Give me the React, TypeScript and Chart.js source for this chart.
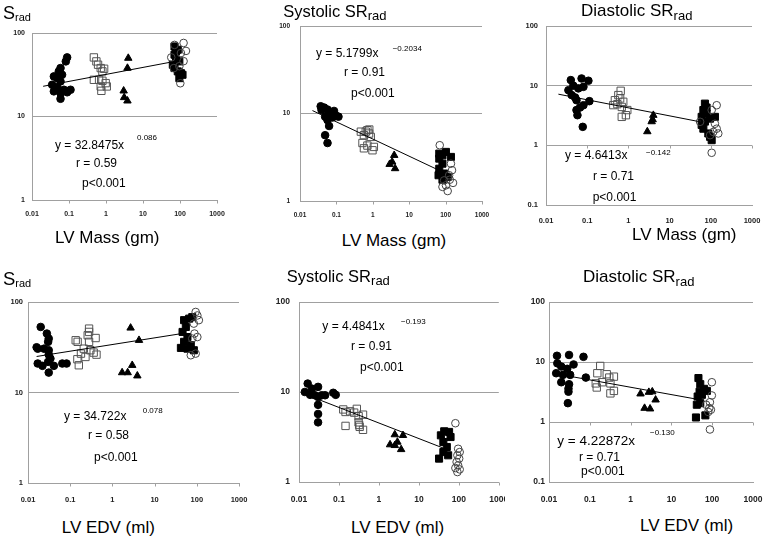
import React, { useEffect, useRef } from 'react';
import { Chart, registerables } from 'chart.js';

Chart.register(...registerables);

type Pt = [number, number];

// ---------- tick values / labels ----------
const xTickValues = [0.01, 0.1, 1, 10, 100, 1000];
const xTickLabels = ['0.01', '0.1', '1', '10', '100', '1000'];
const yTickValuesA = [1, 10, 100];
const yTickLabelsA = ['1', '10', '100'];
const yTickValuesB = [0.1, 1, 10, 100];
const yTickLabelsB = ['0.1', '1', '10', '100'];

// ---------- Panel 1: S_rad vs LV Mass ----------
const p1Circles: Pt[] = [[0.089, 51], [0.082, 45.7], [0.059, 38], [0.053, 34.7], [0.039, 30.2], [0.065, 31.6], [0.048, 28.8], [0.059, 26.3], [0.035, 24], [0.048, 22.3], [0.073, 20.9], [0.11, 20.9], [0.039, 20], [0.059, 19], [0.059, 16.3], [0.089, 19.5]];
const p1OpenSquares: Pt[] = [[0.47, 51], [0.55, 45.7], [0.61, 41.7], [0.72, 38], [0.89, 37.3], [0.8, 34.7], [0.47, 27.5], [0.65, 27.5], [0.8, 26.8], [0.98, 25.1], [0.72, 22.9], [1.05, 22.9], [0.75, 20.3]];
const p1Triangles: Pt[] = [[4.0, 50], [3.8, 38], [3.0, 20.3], [3.1, 16.9], [3.8, 15.4]];
const p1FilledSquares: Pt[] = [[71, 69], [87, 63], [71, 55], [78, 48], [64, 41.7], [71, 38], [87, 34.7], [117, 31.6], [96, 28.8], [106, 33], [78, 60], [96, 45.7]];
const p1OpenCircles: Pt[] = [[71, 72], [125, 76], [145, 61], [106, 57.5], [58, 51], [125, 46], [96, 40], [68, 38], [102, 25]];
const p1Trend: Pt[] = [[0.02, 23], [60, 45]];

// ---------- Panel 2: Systolic SR_rad vs LV Mass ----------
const p2Circles: Pt[] = [[0.037, 12.1], [0.046, 11.7], [0.057, 11.1], [0.039, 11], [0.063, 10], [0.086, 10.7], [0.096, 9.5], [0.114, 9.2], [0.078, 9.0], [0.057, 8.4], [0.063, 7.2], [0.049, 5.65], [0.057, 4.6], [0.049, 9.2]];
const p2OpenSquares: Pt[] = [[0.47, 6.2], [0.71, 6.45], [0.79, 5.9], [0.57, 5.65], [0.88, 5.4], [0.52, 4.6], [0.71, 4.3], [0.57, 4.0], [1.07, 4.15], [0.98, 3.8], [0.64, 6.2], [0.8, 6.56]];
const p2Triangles: Pt[] = [[3.87, 3.33], [2.9, 2.63], [3.4, 2.8], [4.1, 2.35]];
const p2FilledSquares: Pt[] = [[67, 3.48], [82, 3.33], [102, 3.64], [140, 3.19], [67, 3.05], [82, 2.67], [67, 2.34], [64, 1.97], [91, 2.06], [114, 1.88], [82, 1.75]];
const p2OpenCircles: Pt[] = [[69, 4.34], [140, 2.67], [150, 2.25], [125, 1.97], [91, 1.72], [160, 1.61], [102, 1.51], [114, 1.3], [130, 1.75], [82, 1.45]];
const p2Trend: Pt[] = [[0.022, 10.8], [65, 2.25]];

// ---------- Panel 3: Diastolic SR_rad vs LV Mass ----------
const p3Circles: Pt[] = [[0.04, 12.4], [0.073, 13.2], [0.107, 12.1], [0.046, 10], [0.081, 9.55], [0.035, 8.4], [0.061, 9.0], [0.042, 6.95], [0.051, 6.35], [0.055, 5.7], [0.113, 5.5], [0.081, 4.7], [0.067, 4.3], [0.055, 3.9], [0.058, 3.2], [0.078, 2.04]];
const p3OpenSquares: Pt[] = [[0.65, 8.2], [0.57, 6.95], [0.47, 5.7], [0.63, 6.1], [0.75, 5.37], [0.43, 4.72], [0.54, 4.9], [0.69, 4.4], [0.94, 3.9], [0.87, 3.2], [0.69, 3.0]];
const p3Triangles: Pt[] = [[4.03, 3.2], [3.88, 2.7], [3.67, 2.5], [2.88, 1.7]];
const p3FilledSquares: Pt[] = [[72, 5.0], [66, 3.9], [79, 3.4], [60, 3.0], [96, 2.8], [72, 2.5], [126, 3.0], [60, 2.2], [66, 1.9], [87, 1.58], [96, 1.39], [105, 1.22], [79, 4.3]];
const p3OpenCircles: Pt[] = [[139, 4.7], [105, 3.9], [126, 2.3], [139, 1.9], [115, 1.68], [152, 1.58], [96, 1.48], [105, 0.75], [55, 2.48]];
const p3Trend: Pt[] = [[0.02, 7.2], [55, 2.48]];

// ---------- Panel 4: S_rad vs LV EDV ----------
const p4Circles: Pt[] = [[0.02, 53], [0.028, 44.8], [0.031, 39.4], [0.03, 36.3], [0.017, 30.5], [0.024, 30.5], [0.031, 29.3], [0.016, 31.6], [0.031, 26.2], [0.034, 23.7], [0.03, 21.8], [0.017, 20.9], [0.022, 19.7], [0.041, 19.7], [0.065, 20.9], [0.082, 20.9], [0.031, 16.6]];
const p4OpenSquares: Pt[] = [[0.135, 37.8], [0.15, 36.3], [0.28, 50.8], [0.28, 46.7], [0.26, 42.9], [0.4, 40], [0.28, 36.3], [0.21, 30.5], [0.3, 29.3], [0.36, 27.6], [0.42, 26.2], [0.18, 26.9], [0.23, 24.7], [0.148, 23.3], [0.16, 20]];
const p4Triangles: Pt[] = [[2.7, 51.7], [4.27, 37.8], [2.95, 20], [1.7, 16.6], [2.3, 16.6], [3.9, 15.3]];
const p4FilledSquares: Pt[] = [[50, 63], [66, 65.5], [78, 68], [55, 53], [46, 46.7], [60, 41], [50, 36.3], [42, 31.1], [72, 33.3], [85, 29.3], [60, 30.5]];
const p4OpenCircles: Pt[] = [[94, 77.6], [103, 71], [112, 63], [85, 57.7], [88, 44.8], [103, 41], [78, 39.4], [72, 25.8], [94, 26.9]];
const p4Trend: Pt[] = [[0.016, 25], [47, 45]];

// ---------- Panel 5: Systolic SR_rad vs LV EDV ----------
const p5Circles: Pt[] = [[0.0165, 12.4], [0.014, 10], [0.021, 10.9], [0.03, 11.4], [0.019, 9.3], [0.025, 9.2], [0.037, 9.2], [0.045, 9.2], [0.072, 9.8], [0.083, 9.3], [0.03, 8.8], [0.03, 7.2], [0.03, 5.7], [0.03, 4.6]];
const p5OpenSquares: Pt[] = [[0.128, 6.4], [0.146, 6.0], [0.19, 6.1], [0.28, 6.5], [0.24, 5.9], [0.4, 5.6], [0.31, 5.4], [0.146, 4.2], [0.31, 4.6], [0.32, 4.3], [0.33, 4.1], [0.4, 3.8]];
const p5Triangles: Pt[] = [[2.5, 3.36], [4.0, 3.3], [1.9, 2.6], [2.5, 2.55], [2.9, 2.78], [3.6, 2.3]];
const p5FilledSquares: Pt[] = [[35.5, 3.3], [43, 3.66], [57, 3.6], [62, 3.16], [41, 2.78], [50, 2.45], [41, 2.15], [54, 1.98], [32, 1.82]];
const p5OpenCircles: Pt[] = [[82, 4.5], [96, 2.34], [105, 2.15], [92, 1.98], [102, 1.82], [88, 1.67], [96, 1.53], [82, 1.43], [92, 1.29], [105, 1.38]];
const p5Trend: Pt[] = [[0.026, 8.5], [50, 2.3]];

// ---------- Panel 6: Diastolic SR_rad vs LV EDV ----------
const p6Circles: Pt[] = [[0.0157, 12.7], [0.031, 13.1], [0.07, 12.2], [0.016, 9.5], [0.04, 9.1], [0.02, 8.4], [0.028, 7.7], [0.015, 6.5], [0.033, 6.1], [0.022, 6.1], [0.08, 5.5], [0.02, 4.6], [0.031, 4.26], [0.03, 3.6], [0.03, 3.2], [0.029, 2.06]];
const p6OpenSquares: Pt[] = [[0.18, 8.6], [0.153, 6.5], [0.26, 6.25], [0.3, 5.5], [0.39, 5.7], [0.14, 4.4], [0.2, 4.6], [0.32, 4.4], [0.148, 3.76], [0.39, 3.3], [0.32, 3.0]];
const p6Triangles: Pt[] = [[1.75, 2.95], [2.8, 3.14], [3.4, 3.2], [4.1, 2.34], [2.2, 1.7], [3.0, 1.66]];
const p6FilledSquares: Pt[] = [[46, 5.4], [51, 4.27], [49, 3.2], [63, 3.57], [74, 3.3], [56, 2.84], [44, 2.66], [51, 2.06], [42, 1.94], [40, 1.19], [68, 1.29]];
const p6OpenCircles: Pt[] = [[98, 4.6], [98, 2.77], [88, 2.14], [71, 1.94], [85, 1.71], [93, 1.6], [80, 1.47], [88, 0.75]];
const p6Trend: Pt[] = [[0.016, 6.3], [50, 2.35]];

// ---------- styles ----------
const FONT = '"Liberation Sans", Arial, Helvetica, sans-serif';
const GRID = '#a0a0a0';

const MARKERS = [
  { style: 'circle', radius: 3.8, bg: '#000', border: '#000' },
  { style: 'rect', radius: 5.2, bg: 'rgba(0,0,0,0)', border: '#555' },
  { style: 'triangle', radius: 4.3, bg: '#000', border: '#000' },
  { style: 'rect', radius: 5.0, bg: '#000', border: '#000' },
  { style: 'circle', radius: 3.8, bg: 'rgba(0,0,0,0)', border: '#444' },
];

interface PanelDef {
  canvas: [number, number, number, number]; // left, top, width, height
  area: [number, number, number, number]; // left, top, right, bottom
  yMin: number;
  yTicks: number[];
  yLabels: string[];
  groups: Pt[][];
  trend: Pt[];
  tickSize: number;
  xPad: number;
  yPad: number;
}

const PANELS: PanelDef[] = [
  { canvas: [0, 0, 250, 230], area: [32, 33, 217, 200], yMin: 1, yTicks: yTickValuesA, yLabels: yTickLabelsA, groups: [p1Circles, p1OpenSquares, p1Triangles, p1FilledSquares, p1OpenCircles], trend: p1Trend, tickSize: 7, xPad: 10, yPad: 7 },
  { canvas: [250, 0, 255, 230], area: [300, 26, 482, 201], yMin: 1, yTicks: yTickValuesA, yLabels: yTickLabelsA, groups: [p2Circles, p2OpenSquares, p2Triangles, p2FilledSquares, p2OpenCircles], trend: p2Trend, tickSize: 6.5, xPad: 10, yPad: 10 },
  { canvas: [505, 0, 260, 230], area: [546, 26, 752, 205], yMin: 0.1, yTicks: yTickValuesB, yLabels: yTickLabelsB, groups: [p3Circles, p3OpenSquares, p3Triangles, p3FilledSquares, p3OpenCircles], trend: p3Trend, tickSize: 7.5, xPad: 11, yPad: 8 },
  { canvas: [0, 260, 250, 255], area: [28, 302, 239, 483], yMin: 1, yTicks: yTickValuesA, yLabels: yTickLabelsA, groups: [p4Circles, p4OpenSquares, p4Triangles, p4FilledSquares, p4OpenCircles], trend: p4Trend, tickSize: 7.5, xPad: 12.5, yPad: 5 },
  { canvas: [250, 260, 255, 255], area: [299, 302, 499, 482], yMin: 1, yTicks: yTickValuesA, yLabels: yTickLabelsA, groups: [p5Circles, p5OpenSquares, p5Triangles, p5FilledSquares, p5OpenCircles], trend: p5Trend, tickSize: 8.5, xPad: 13, yPad: 9 },
  { canvas: [505, 260, 260, 255], area: [549, 302, 753, 482], yMin: 0.1, yTicks: yTickValuesB, yLabels: yTickLabelsB, groups: [p6Circles, p6OpenSquares, p6Triangles, p6FilledSquares, p6OpenCircles], trend: p6Trend, tickSize: 8.5, xPad: 13, yPad: 4 },
];

// small tick marks on the y = 1 line (where the value axis crosses)
const crossTicks = {
  id: 'crossTicks',
  afterDraw(chart: any) {
    const { ctx, scales } = chart;
    const xs = scales.x;
    const ys = scales.y;
    const py = Math.round(ys.getPixelForValue(1)) + 0.5;
    ctx.save();
    ctx.strokeStyle = GRID;
    ctx.lineWidth = 1;
    xTickValues.slice(1).forEach((v) => {
      const px = Math.round(xs.getPixelForValue(v)) + 0.5;
      ctx.beginPath();
      ctx.moveTo(px, py);
      ctx.lineTo(px, py + 3);
      ctx.stroke();
    });
    ctx.restore();
  },
};

function makeConfig(p: PanelDef): any {
  const [cl, ct, cw, ch] = p.canvas;
  const [al, at, ar, ab] = p.area;
  const yW = al - cl;
  const xH = ct + ch - ab;
  const padTop = at - ct;
  const padRight = cl + cw - ar;
  const markerSets = p.groups.map((g, i) => ({
    data: g.map(([x, y]) => ({ x, y })),
    pointStyle: MARKERS[i].style,
    pointRadius: MARKERS[i].radius,
    backgroundColor: MARKERS[i].bg,
    borderColor: MARKERS[i].border,
    borderWidth: 1,
    showLine: false,
  }));
  const datasets = [
    {
      data: p.trend.map(([x, y]) => ({ x, y })),
      showLine: true,
      borderColor: '#000',
      borderWidth: 1,
      pointRadius: 0,
      fill: false,
    },
    ...markerSets.reverse(),
  ];
  const tickFont = { family: FONT, size: p.tickSize, weight: 'bold' };
  return {
    type: 'scatter',
    data: { datasets },
    options: {
      animation: false,
      responsive: false,
      events: [],
      layout: { padding: { top: padTop, right: padRight, left: 0, bottom: 0 } },
      plugins: { legend: { display: false }, tooltip: { enabled: false }, title: { display: false } },
      scales: {
        x: {
          type: 'logarithmic',
          position: 'bottom',
          min: 0.01,
          max: 1000,
          afterBuildTicks: (s: any) => {
            s.ticks = xTickValues.map((v) => ({ value: v }));
          },
          afterFit: (s: any) => {
            s.height = xH;
            s.paddingLeft = 0;
            s.paddingRight = 0;
            s.paddingTop = 0;
            s.paddingBottom = 0;
          },
          ticks: {
            callback: (_v: any, i: number) => xTickLabels[i],
            font: tickFont,
            color: '#222',
            padding: p.xPad,
            maxRotation: 0,
            autoSkip: false,
          },
          grid: { display: true, drawOnChartArea: false, drawTicks: false },
          border: { display: true, color: GRID, width: 1 },
        },
        y: {
          type: 'logarithmic',
          position: 'left',
          min: p.yMin,
          max: 100,
          afterBuildTicks: (s: any) => {
            s.ticks = p.yTicks.map((v) => ({ value: v }));
          },
          afterFit: (s: any) => {
            s.width = yW;
            s.paddingLeft = 0;
            s.paddingRight = 0;
            s.paddingTop = 0;
            s.paddingBottom = 0;
          },
          ticks: {
            callback: (_v: any, i: number) => p.yLabels[i],
            font: tickFont,
            color: '#222',
            padding: p.yPad,
            autoSkip: false,
          },
          grid: { color: GRID, lineWidth: 1, drawTicks: false },
          border: { display: true, color: GRID, width: 1 },
        },
      },
    },
    plugins: [crossTicks],
  };
}

function T({ x, y, s, children }: { x: number; y: number; s: number; children: React.ReactNode }) {
  return (
    <div
      style={{
        position: 'absolute',
        left: x,
        top: y - 0.8465 * s,
        fontSize: s,
        lineHeight: `${s}px`,
        whiteSpace: 'nowrap',
      }}
    >
      {children}
    </div>
  );
}

function Sub({ s, dy, children }: { s: number; dy: number; children: React.ReactNode }) {
  return <span style={{ fontSize: s, position: 'relative', top: dy, lineHeight: 0 }}>{children}</span>;
}

export default function App() {
  const refs = useRef<(HTMLCanvasElement | null)[]>([]);

  useEffect(() => {
    const charts = PANELS.map((p, i) => {
      const c = refs.current[i];
      return c ? new Chart(c, makeConfig(p)) : null;
    });
    return () => {
      charts.forEach((c) => c && c.destroy());
    };
  }, []);

  return (
    <div
      style={{
        position: 'absolute',
        left: 0,
        top: 0,
        width: 765,
        height: 540,
        background: '#fff',
        fontFamily: FONT,
        color: '#000',
        overflow: 'hidden',
      }}
    >
      {PANELS.map((p, i) => (
        <canvas
          key={i}
          ref={(el) => {
            refs.current[i] = el;
          }}
          width={p.canvas[2]}
          height={p.canvas[3]}
          style={{ position: 'absolute', left: p.canvas[0], top: p.canvas[1], width: p.canvas[2], height: p.canvas[3] }}
        />
      ))}

      {/* Panel 1 */}
      <T x={3} y={19.3} s={18}>S<Sub s={11} dy={1.5}>rad</Sub></T>
      <T x={55} y={243} s={17}>LV Mass (gm)</T>
      <T x={55} y={149.3} s={12}>y = 32.8475x</T>
      <T x={137} y={140.7} s={8}>0.086</T>
      <T x={76} y={166.7} s={12}>r = 0.59</T>
      <T x={82} y={186.7} s={12}>p&lt;0.001</T>

      {/* Panel 2 */}
      <T x={283.3} y={16.5} s={16.5}>Systolic SR<Sub s={13} dy={3.5}>rad</Sub></T>
      <T x={341.7} y={246} s={17}>LV Mass (gm)</T>
      <T x={316} y={57} s={12}>y = 5.1799x</T>
      <T x={392.7} y={51.5} s={8}>−0.2034</T>
      <T x={344} y={76} s={12}>r = 0.91</T>
      <T x={351} y={96.7} s={12}>p&lt;0.001</T>

      {/* Panel 3 */}
      <T x={581} y={16.5} s={17}>Diastolic SR<Sub s={13} dy={3.5}>rad</Sub></T>
      <T x={632} y={240.7} s={17}>LV Mass (gm)</T>
      <T x={565} y={159.3} s={12}>y = 4.6413x</T>
      <T x={646} y={156} s={8}>−0.142</T>
      <T x={593} y={180} s={12}>r = 0.71</T>
      <T x={592.7} y={200.7} s={12}>p&lt;0.001</T>

      {/* Panel 4 */}
      <T x={3} y={286} s={18.5}>S<Sub s={11} dy={1.5}>rad</Sub></T>
      <T x={61.7} y={533.3} s={17}>LV EDV (ml)</T>
      <T x={64} y={420} s={12}>y = 34.722x</T>
      <T x={142.7} y={413.3} s={8}>0.078</T>
      <T x={88} y={439.3} s={12}>r = 0.58</T>
      <T x={94} y={460.7} s={12}>p&lt;0.001</T>

      {/* Panel 5 */}
      <T x={286.7} y={281.7} s={16.5}>Systolic SR<Sub s={13} dy={3.5}>rad</Sub></T>
      <T x={351} y={533.3} s={17}>LV EDV (ml)</T>
      <T x={322.3} y={330} s={12}>y = 4.4841x</T>
      <T x={401} y={324.3} s={8}>−0.193</T>
      <T x={351} y={350} s={12}>r = 0.91</T>
      <T x={360} y={371} s={12}>p&lt;0.001</T>

      {/* Panel 6 */}
      <T x={583} y={282.7} s={17}>Diastolic SR<Sub s={13} dy={3.5}>rad</Sub></T>
      <T x={640} y={531.7} s={17}>LV EDV (ml)</T>
      <T x={557.3} y={445} s={13.5}>y = 4.22872x</T>
      <T x={650} y={435.7} s={8}>−0.130</T>
      <T x={579} y={461} s={12}>r = 0.71</T>
      <T x={581} y={475} s={12}>p&lt;0.001</T>
    </div>
  );
}
